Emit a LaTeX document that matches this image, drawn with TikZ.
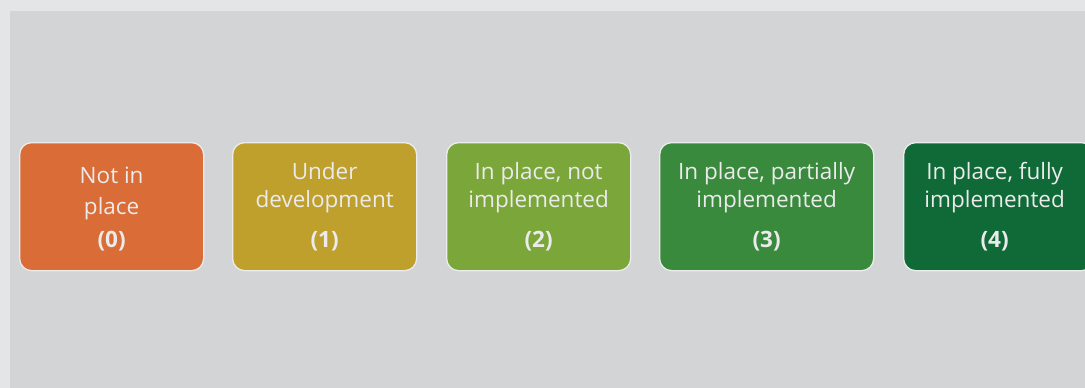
\documentclass[tikz,border=0pt]{standalone}
\usepackage{fontspec}
\setmainfont{Open Sans}
\definecolor{outerbg}{HTML}{E4E5E7}
\definecolor{innerbg}{HTML}{D3D4D6}
\definecolor{c0}{HTML}{DA6C37}
\definecolor{c1}{HTML}{BFA02D}
\definecolor{c2}{HTML}{7BA63A}
\definecolor{c3}{HTML}{3A8A3E}
\definecolor{c4}{HTML}{0F6A37}
\definecolor{txt}{HTML}{EBEBEB}
\definecolor{edge}{HTML}{ECECEC}
\begin{document}
\begin{tikzpicture}[x=1pt,y=-1pt,
  lvl/.style={draw=edge,line width=1.3pt,rounded corners=12pt,inner sep=0pt,anchor=north west},
  lbl/.style={text=txt,font=\fontsize{22.5}{28}\selectfont,align=center,inner sep=0pt},
  num/.style={text=txt,font=\fontsize{22.5}{26}\selectfont\bfseries,inner sep=0pt}]
\useasboundingbox (0,0) rectangle (1085,388);
\fill[outerbg] (0,0) rectangle (1085,388);
\fill[innerbg] (10,11) rectangle (1085,388);
\node[lvl,fill=c0,minimum width=184pt,minimum height=128pt] (b0) at (19,142) {};
\node[lvl,fill=c1,minimum width=184pt,minimum height=128pt] (b1) at (232,142) {};
\node[lvl,fill=c2,minimum width=184pt,minimum height=128pt] (b2) at (446,142) {};
\node[lvl,fill=c3,minimum width=214pt,minimum height=128pt] (b3) at (659,142) {};
\node[lvl,fill=c4,minimum width=190pt,minimum height=128pt] (b4) at (903,142) {};
\node[lbl,font=\fontsize{22.5}{31}\selectfont] (t0) at ([yshift=-51pt]b0.north) {Not in\\place};
\node[lbl] (t1) at ([yshift=-46pt]b1.north) {Under\\development};
\node[lbl] (t2) at ([yshift=-46pt]b2.north) {In place, not\\implemented};
\node[lbl] (t3) at ([yshift=-46pt]b3.north) {In place, partially\\implemented};
\node[lbl] (t4) at ([yshift=-46pt,xshift=-4pt]b4.north) {In place, fully\\implemented};
\node[num] (n0) at ([yshift=-99pt]b0.north) {(0)};
\node[num] (n1) at ([yshift=-99pt]b1.north) {(1)};
\node[num] (n2) at ([yshift=-99pt]b2.north) {(2)};
\node[num] (n3) at ([yshift=-99pt]b3.north) {(3)};
\node[num] (n4) at ([yshift=-99pt,xshift=-4pt]b4.north) {(4)};
\end{tikzpicture}
\end{document}
